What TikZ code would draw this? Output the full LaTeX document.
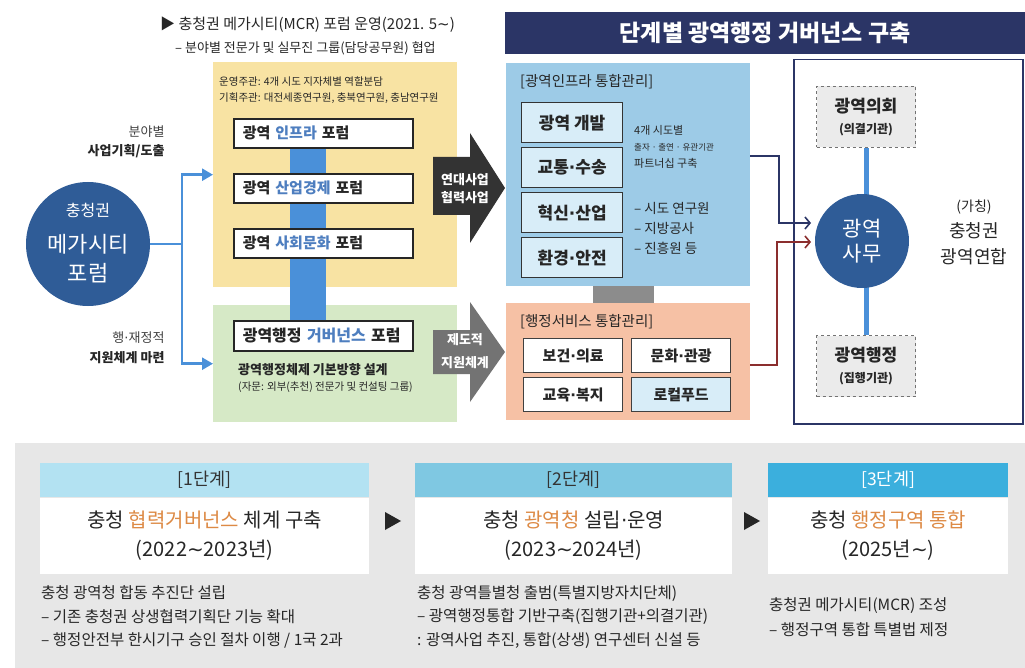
\documentclass[tikz,border=0pt]{standalone}
\usepackage{fontspec}
\setmainfont{Noto Sans CJK KR}
\newfontfamily\symfont{DejaVu Sans}
\usepackage{tikz}
\usetikzlibrary{calc,positioning,arrows.meta}
\tikzset{>=latex}

\definecolor{navy}{HTML}{2B3566}
\definecolor{yellowbg}{HTML}{F8E3A3}
\definecolor{greenbg}{HTML}{D6E9C6}
\definecolor{bluebg}{HTML}{9DCBE7}
\definecolor{salmonbg}{HTML}{F6C1A5}
\definecolor{barblue}{HTML}{4A90D9}
\definecolor{circblue}{HTML}{2F5C97}
\definecolor{hlblue}{HTML}{4E7EBF}
\definecolor{hlorange}{HTML}{DD8A45}
\definecolor{panelgray}{HTML}{E7E7E7}
\definecolor{stageA}{HTML}{B3E2F2}
\definecolor{stageB}{HTML}{7FC8E2}
\definecolor{stageC}{HTML}{3BAFDD}
\definecolor{darkred}{HTML}{8B2E2E}
\definecolor{lightbox}{HTML}{D8EDF8}

\newcommand{\fsz}[1]{\fontsize{#1pt}{#1pt}\selectfont}
\newcommand{\tld}{{\symfont ∼}}   % 물결표
\newcommand{\mdot}{{\symfont ·}}  % 가운뎃점

\tikzset{
  bigbox/.style={anchor=north west, inner sep=0pt},
  forum/.style={draw=black!85, line width=1.6pt, fill=white, anchor=north west,
    minimum height=29pt, inner xsep=9pt, inner ysep=0pt, text width=161pt,
    align=left, font=\bfseries\fsz{15}, text=black!85},
  infobox/.style={draw=black!80, line width=1.3pt, fill=lightbox, anchor=north west,
    minimum width=101pt, minimum height=40pt, inner sep=0pt,
    font=\bfseries\fsz{17}, text=black!85},
  svcbox/.style={draw=black!75, line width=1.3pt, fill=white, anchor=north west,
    minimum width=99pt, minimum height=34pt, inner sep=0pt,
    font=\bfseries\fsz{15}, text=black!85},
  organ/.style={draw=black!55, dashed, line width=1pt, fill=black!8, anchor=north,
    minimum width=99pt, minimum height=61pt, align=center, text=black!85,
    font=\bfseries\fontsize{12pt}{21pt}\selectfont},
  txt/.style={anchor=west, inner sep=0pt, text=black!85},
  stagehead/.style={anchor=north west, minimum height=34pt, inner sep=0pt,
    font=\fsz{17.5}, text=black!80},
  stagebody/.style={anchor=north, fill=white, minimum height=76pt, inner sep=0pt,
    align=center, font=\fontsize{20pt}{29pt}\selectfont, text=black!85},
  note/.style={anchor=west, inner sep=0pt, align=left, text=black!85},
  flow/.style={barblue, line width=2.5pt, -{Triangle[length=11pt,width=12pt]}},
  link/.style={line width=1.6pt, -{Straight Barb[length=5pt,width=12pt]}},
}

\begin{document}
\begin{tikzpicture}[x=1pt,y=-1pt]
\useasboundingbox (0,0) rectangle (1025,668);

% 상단 제목
\node[txt, font=\fsz{15}] (mcr) at (160,25) {▶ 충청권 메가시티(MCR) 포럼 운영(2021. 5\tld)};
\node[txt, font=\fsz{13}] (collab) at (175,48) {– 분야별 전문가 및 실무진 그룹(담당공무원) 협업};
\node[bigbox, fill=navy, minimum width=520pt, minimum height=42pt, text=white,
  font=\bfseries\fsz{23}] (head) at (505,12) {단계별 광역행정 거버넌스 구축};

% 포럼 (노랑/초록)
\node[bigbox, fill=yellowbg, minimum width=244pt, minimum height=225pt] (yel) at (213,62) {};
\node[bigbox, fill=greenbg, minimum width=244pt, minimum height=117pt] (grn) at (213,305) {};
\fill[barblue] (290,146) rectangle (326,321); % 세로 연결 막대
\node[txt, font=\fsz{10.5}] (host) at (219,82) {운영주관: 4개 시도 지자체별 역할분담};
\node[txt, font=\fsz{10.5}] (plan) at (219,98) {기획주관: 대전세종연구원, 충북연구원, 충남연구원};
\foreach \t/\y [count=\i] in {인프라/118, 산업경제/173, 사회문화/228}
  \node[forum] (forum\i) at (233,\y) {광역 \textcolor{hlblue}{\t} 포럼};
\node[forum, minimum height=30pt, font=\bfseries\fsz{16}] (govf) at (233,320) {광역행정 \textcolor{hlblue}{거버넌스} 포럼};
\node[txt, font=\bfseries\fsz{13}] (design) at (238,370) {광역행정체제 기본방향 설계};
\node[txt, font=\fsz{10.5}] (advice) at (238,387) {(자문: 외부(추천) 전문가 및 컨설팅 그룹)};

% 왼쪽 원
\node[circle, fill=circblue, minimum size=124pt, inner sep=0pt] (mega) at (88,244) {};
\node[text=white, font=\fsz{16}] (megaA) at (88,210) {충청권};
\node[text=white, font=\fsz{22}] (megaB) at (88,244) {메가시티};
\node[text=white, font=\fsz{22}] (megaC) at (88,273) {포럼};
\coordinate (fork) at (182,244);
\draw[barblue, line width=2.5pt] (mega.east) -- ($(fork)+(1.25,0)$);
\draw[flow] (fork) |- (yel.west);
\draw[flow] (fork) |- (grn.west);
\node[anchor=east, font=\fsz{13}, text=black!75] (fieldA) at (168,132) {분야별};
\node[anchor=east, font=\bfseries\fsz{13}, text=black!85] (fieldB) at (168,151) {사업기획/도출};
\node[anchor=east, font=\fsz{13}, text=black!75] (fundA) at (168,338) {행\mdot 재정적};
\node[anchor=east, font=\bfseries\fsz{13}, text=black!85] (fundB) at (168,358) {지원체계 마련};

% 큰 화살표
\fill[black!80] (433,157) -- (470,157) -- (470,133) -- (505,188) -- (470,243) -- (470,215) -- (433,215) -- cycle;
\node[text=white, align=center, font=\bfseries\fontsize{13pt}{18pt}\selectfont] (coop) at (465,189) {연대사업\\협력사업};
\fill[black!55] (433,330) -- (470,330) -- (470,302) -- (505,352) -- (470,402) -- (470,374) -- (433,374) -- cycle;
\node[text=white, align=center, font=\bfseries\fontsize{13pt}{23pt}\selectfont] (inst) at (465,351) {제도적\\지원체계};

% 통합관리 (파랑/주황)
\node[bigbox, fill=bluebg, minimum width=244pt, minimum height=223pt] (ib) at (506,63) {};
\node[bigbox, fill=salmonbg, minimum width=244pt, minimum height=117pt] (sb) at (506,303) {};
\fill[black!45] (593,286) rectangle (654,303);
\node[txt, font=\fsz{14.5}] (ibt) at (520,82) {[광역인프라 통합관리]};
\foreach \t [count=\i from 0] in {광역 개발, 교통\mdot 수송, 혁신\mdot 산업, 환경\mdot 안전}
  \node[infobox] (inf\i) at (521,102+45*\i) {\t};
\node[txt, font=\fsz{11}] (part1) at (634,130) {4개 시도별};
\node[txt, font=\fsz{8.5}] (part2) at (634,147) {출자 · 출연 · 유관기관};
\node[txt, font=\fsz{11}] (part3) at (634,163) {파트너십 구축};
\foreach \t [count=\i] in {시도 연구원, 지방공사, 진흥원 등}
  \node[txt, font=\fsz{13.5}] (org\i) at (634,188+20*\i) {– \t};
\node[txt, font=\fsz{14.5}] (sbt) at (520,322) {[행정서비스 통합관리]};
\node[svcbox] (health) at (523,338) {보건\mdot 의료};
\node[svcbox] (culture) at (631,338) {문화\mdot 관광};
\node[svcbox] (edu) at (523,377) {교육\mdot 복지};
\node[svcbox, fill=lightbox] (food) at (631,377) {로컬푸드};

% 광역연합
\node[bigbox, draw=navy, line width=1.5pt, minimum width=229pt, minimum height=364pt] (union) at (793,59) {};
\node[organ] (council) at (866,86) {{\fontsize{17pt}{21pt}\selectfont 광역의회}\\(의결기관)};
\node[organ] (exec) at (866,335) {{\fontsize{17pt}{21pt}\selectfont 광역행정}\\(집행기관)};
\draw[barblue, line width=5pt] (council.south) -- (exec.north);
\node[circle, fill=circblue, minimum size=94pt, inner sep=0pt, text=white, align=center,
  font=\fontsize{21pt}{25pt}\selectfont] (office) at (862,241) {광역\\사무};
\node[align=center, text=black!85, font=\fontsize{18pt}{26pt}\selectfont] (name) at (974,232)
  {{\fsz{14}(가칭)}\\충청권\\광역연합};
\coordinate (navyin) at (811,223);
\coordinate (redin) at (811,242);
\draw[link, navy] ($(ib.north east)+(0,93)$) -| (779,223) -- (navyin);
\draw[link, darkred] ($(sb.north east)+(0,62)$) -| (777,242) -- (redin);

% 하단 단계
\node[bigbox, fill=panelgray, minimum width=1010pt, minimum height=225pt] (panel) at (15,443) {};
\node[stagehead, fill=stageA, minimum width=329pt] (s1h) at (40,463) {[1단계]};
\node[stagebody, minimum width=329pt] (s1b) at (s1h.south) {충청 \textcolor{hlorange}{협력거버넌스} 체계 구축\\(2022\tld 2023년)};
\node[note, font=\fontsize{15.5pt}{23.5pt}\selectfont] (s1n) at (41,617)
  {충청 광역청 합동 추진단 설립\\– 기존 충청권 상생협력기획단 기능 확대\\– 행정안전부 한시기구 승인 절차 이행 / 1국 2과};
\node[stagehead, fill=stageB, minimum width=317pt] (s2h) at (415,463) {[2단계]};
\node[stagebody, minimum width=317pt] (s2b) at (s2h.south) {충청 \textcolor{hlorange}{광역청} 설립\mdot 운영\\(2023\tld 2024년)};
\node[note, font=\fontsize{15.5pt}{23.5pt}\selectfont] (s2n) at (417,617)
  {충청 광역틀별청 출범(특별지방자치단체)\\– 광역행정통합 기반구축(집행기관+의결기관)\\: 광역사업 추진, 통합(상생) 연구센터 신설 등};
\node[stagehead, fill=stageC, minimum width=240pt, text=white] (s3h) at (768,463) {[3단계]};
\node[stagebody, minimum width=240pt] (s3b) at (s3h.south) {충청 \textcolor{hlorange}{행정구역 통합}\\(2025년\tld)};
\node[note, font=\fontsize{15.5pt}{25pt}\selectfont] (s3n) at (769,617)
  {충청권 메가시티(MCR) 조성\\– 행정구역 통합 특별법 제정};
\fill[black!85] (385,512) -- (401,521) -- (385,530) -- cycle;
\fill[black!85] (744,512) -- (760,521) -- (744,530) -- cycle;
\end{tikzpicture}
\end{document}
